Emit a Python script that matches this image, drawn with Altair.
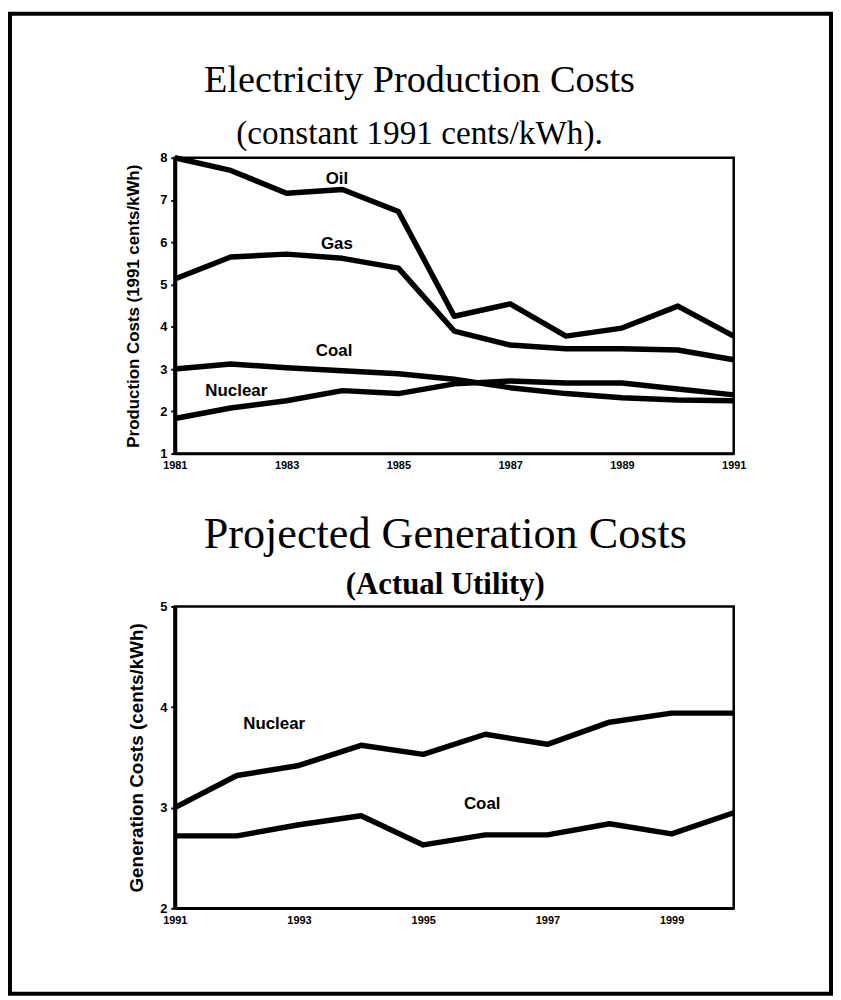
import altair as alt
import pandas as pd

# ---------------- data ----------------
years_top = list(range(1981, 1992))
oil = [8.0, 7.7, 7.16, 7.25, 6.73, 4.25, 4.54, 3.78, 3.97, 4.49, 3.78]
gas = [5.13, 5.65, 5.72, 5.62, 5.39, 3.9, 3.57, 3.48, 3.48, 3.45, 3.22]
coal_top = [3.0, 3.12, 3.03, 2.96, 2.89, 2.76, 2.56, 2.42, 2.32, 2.27, 2.25]
nuclear_top = [1.83, 2.08, 2.25, 2.49, 2.42, 2.65, 2.72, 2.67, 2.67, 2.53, 2.39]
top_xticks = [1981, 1983, 1985, 1987, 1989, 1991]
top_yticks = [1, 2, 3, 4, 5, 6, 7, 8]

years_bottom = list(range(1991, 2001))
nuclear_bottom = [3.0, 3.32, 3.42, 3.62, 3.53, 3.73, 3.63, 3.85, 3.94, 3.94]
coal_bottom = [2.72, 2.72, 2.83, 2.92, 2.63, 2.73, 2.73, 2.84, 2.74, 2.95]
bottom_xticks = [1991, 1993, 1995, 1997, 1999]
bottom_yticks = [2, 3, 4, 5]

top_labels = ["Oil", "Gas", "Coal", "Nuclear"]
top_label_year = [1983.9, 1983.9, 1983.85, 1982.1]
top_label_value = [7.5, 5.95, 3.43, 2.49]
bottom_labels = ["Nuclear", "Coal"]
bottom_label_year = [1992.6, 1995.95]
bottom_label_value = [3.83, 3.04]

# ---------------- tables ----------------
def long_df(years, series):
    rows = []
    for name, vals in series.items():
        for yr, v in zip(years, vals):
            rows.append({"series": name, "year": yr, "value": v})
    return pd.DataFrame(rows)

top_df = long_df(years_top, {"Oil": oil, "Gas": gas, "Coal": coal_top, "Nuclear": nuclear_top})
bottom_df = long_df(years_bottom, {"Nuclear": nuclear_bottom, "Coal": coal_bottom})
top_lab = pd.DataFrame({"label": top_labels, "year": top_label_year, "value": top_label_value})
bottom_lab = pd.DataFrame({"label": bottom_labels, "year": bottom_label_year, "value": bottom_label_value})

W = 563
H1 = 298
H2 = 304
SPACE = 154
SANS = "Liberation Sans"
SERIF = "Liberation Serif"


def panel(df, lab, xdom, xticks, ydom, yticks, ytitle, ytitle_size, ytitle_pad):
    x = alt.X("year:Q", scale=alt.Scale(domain=xdom, nice=False, zero=False),
              axis=alt.Axis(values=xticks, format="d", title=None, labelFlush=False,
                            tickSize=0, labelPadding=6, labelFont=SANS, labelFontWeight="bold",
                            labelFontSize=11, labelColor="black", domainColor="black",
                            domainWidth=2.5, grid=False))
    y = alt.Y("value:Q", scale=alt.Scale(domain=ydom, nice=False, zero=False),
              axis=alt.Axis(values=yticks, format="d", title=ytitle, labelFont=SANS,
                            labelFontWeight="bold", labelFontSize=13, labelColor="black",
                            tickSize=4, tickWidth=2, tickColor="black", labelPadding=4,
                            domainColor="black", domainWidth=4, grid=False,
                            titleFont=SANS, titleFontWeight="bold", titleFontSize=ytitle_size,
                            titleColor="black", titlePadding=ytitle_pad))
    lines = alt.Chart(df).mark_line(color="black", strokeWidth=5.5, strokeJoin="round").encode(
        x=x, y=y, detail="series:N")
    text = alt.Chart(lab).mark_text(font=SANS, fontWeight="bold", fontSize=17, color="black").encode(
        x="year:Q", y="value:Q", text="label:N")
    return [lines, text]


top_layers = panel(top_df, top_lab, [1981, 1991], top_xticks, [1, 8], top_yticks,
                   "Production Costs (1991 cents/kWh)", 17, 17)
bottom_layers = panel(bottom_df, bottom_lab, [1991, 2000], bottom_xticks, [2, 5], bottom_yticks,
                      "Generation Costs (cents/kWh)", 19, 13)

top_title = alt.TitleParams(text="Electricity Production Costs", subtitle="(constant 1991 cents/kWh).",
                            font=SERIF, fontSize=38.5, fontWeight="normal", color="black",
                            subtitleFont=SERIF, subtitleFontSize=33.5, subtitleColor="black",
                            subtitlePadding=18, anchor="middle", frame="group", dx=-35, offset=0)
bottom_title = alt.TitleParams(text="Projected Generation Costs", subtitle="(Actual Utility)",
                               font=SERIF, fontSize=44.5, fontWeight="normal", color="black",
                               subtitleFont=SERIF, subtitleFontSize=31, subtitleColor="black",
                               subtitleFontWeight="bold",
                               subtitlePadding=12, anchor="middle", frame="group", dx=-9, offset=0)

top = alt.layer(*top_layers).properties(width=W, height=H1, title=top_title)
bottom = alt.layer(*bottom_layers).properties(width=W, height=H2, title=bottom_title)

# page frame (decoration) drawn from a tiny spacer panel placed after the charts,
# reaching back up over the whole page
TOP_PLOT_Y = 155
spacer_y = TOP_PLOT_Y + H1 + SPACE + H2 + SPACE
frame = alt.Chart(pd.DataFrame({"f": [0]})).mark_rect(
    filled=False, stroke="black", strokeWidth=4).encode(
    x=alt.value(-166), x2=alt.value(661), y=alt.value(10 - spacer_y), y2=alt.value(997 - spacer_y))
spacer = frame.properties(width=W, height=1, view=alt.ViewBackground(strokeWidth=0, stroke="transparent"))

chart = alt.vconcat(top, bottom, spacer, spacing=SPACE, bounds="flush").properties(
    padding=0, background="white"
).configure_view(stroke="black", strokeWidth=2.5)

chart.save("out.html", embed_options={"renderer": "svg", "actions": False})
